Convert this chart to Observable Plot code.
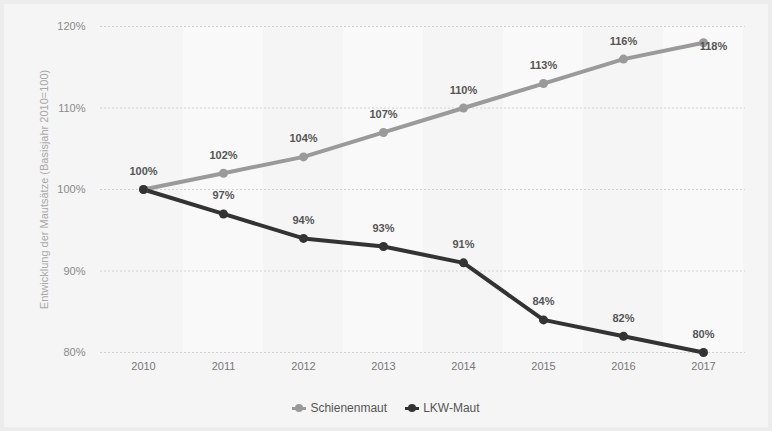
<!DOCTYPE html>
<html>
<head>
<meta charset="utf-8">
<script src="https://cdn.jsdelivr.net/npm/d3@7"></script>
<script src="https://cdn.jsdelivr.net/npm/@observablehq/plot@0.6"></script>
<style>
  html, body { margin: 0; padding: 0; }
  body { width: 772px; height: 431px; background: #ececec; font-family: "Liberation Sans", Arial, sans-serif; overflow: hidden; }
  #panel { position: absolute; left: 4px; top: 4px; width: 764px; height: 423px; background: #f5f5f5; }
  #chart { position: absolute; left: 0; top: 0; }
  #legend { position: absolute; left: 0; top: 401px; width: 772px; display: flex; justify-content: center; gap: 18px; font-size: 12px; color: #555; }
  .item { display: flex; align-items: center; gap: 4px; }
  .sw { position: relative; width: 14px; height: 10px; }
  .sw .ln { position: absolute; left: 0; top: 3.5px; width: 14px; height: 3px; }
  .sw .dt { position: absolute; left: 3px; top: 1px; width: 8px; height: 8px; border-radius: 50%; }
</style>
</head>
<body>
<div id="panel"></div>
<div id="chart"></div>
<div id="legend"></div>
<script>
const years = [2010, 2011, 2012, 2013, 2014, 2015, 2016, 2017];
const schienenmaut = [100, 102, 104, 107, 110, 113, 116, 118];
const lkwMaut = [100, 97, 94, 93, 91, 84, 82, 80];
const yTicks = [80, 90, 100, 110, 120];
const seriesNames = ["Schienenmaut", "LKW-Maut"];
const seriesColors = ["#9a9a9a", "#333333"];
const yTitle = "Entwicklung der Mautsätze (Basisjahr 2010=100)";

const rows = [];
years.forEach((y, i) => {
  rows.push({year: y, value: schienenmaut[i], series: seriesNames[0]});
  rows.push({year: y, value: lkwMaut[i], series: seriesNames[1]});
});
const bands = years.filter((y, i) => i % 2 === 1).map(y => ({year: y}));
const firstYear = years[0];
const lastYear = years[years.length - 1];

const chart = Plot.plot({
  width: 772,
  height: 395,
  marginLeft: 100,
  marginRight: 27,
  marginTop: 26,
  marginBottom: 43,
  style: {background: "transparent", fontFamily: "Liberation Sans, Arial, sans-serif"},
  x: {type: "band", domain: years, padding: 0, label: null},
  y: {domain: [80, 120], label: null},
  color: {domain: seriesNames, range: seriesColors},
  marks: [
    Plot.cell(bands, {x: "year", fill: "#f9f9f9"}),
    Plot.gridY(yTicks, {stroke: "#d2d2d2", strokeOpacity: 1, strokeDasharray: "2,2"}),
    Plot.axisY(yTicks, {tickFormat: d => d + "%", tickSize: 0, tickPadding: 15, fill: "#8a8a8a", fontSize: 11, label: null}),
    Plot.axisX(years, {tickFormat: d => String(d), tickSize: 0, tickPadding: 10, fill: "#777", fontSize: 11, label: null}),
    Plot.text([yTitle], {frameAnchor: "left", dx: -56, rotate: -90, textAnchor: "middle", fill: "#a8a8a8", fontSize: 11}),
    Plot.line(rows, {x: "year", y: "value", stroke: "series", strokeWidth: 4, curve: "linear"}),
    Plot.dot(rows, {x: "year", y: "value", fill: "series", r: 4.5}),
    Plot.text(rows.filter(d => !(d.series === seriesNames[0] && d.year === lastYear) && !(d.series === seriesNames[1] && d.year === firstYear)),
      {x: "year", y: "value", text: d => d.value + "%", dy: -18, fill: "#555", fontSize: 11, fontWeight: "bold"}),
    Plot.text(rows.filter(d => d.series === seriesNames[0] && d.year === lastYear),
      {x: "year", y: "value", text: d => d.value + "%", dx: 10, dy: 4, fill: "#555", fontSize: 11, fontWeight: "bold"})
  ]
});
document.getElementById("chart").appendChild(chart);

const legend = document.getElementById("legend");
seriesNames.forEach((name, i) => {
  const item = document.createElement("div");
  item.className = "item";
  item.innerHTML = `<div class="sw"><div class="ln" style="background:${seriesColors[i]}"></div><div class="dt" style="background:${seriesColors[i]}"></div></div><span>${name}</span>`;
  legend.appendChild(item);
});
</script>
</body>
</html>
